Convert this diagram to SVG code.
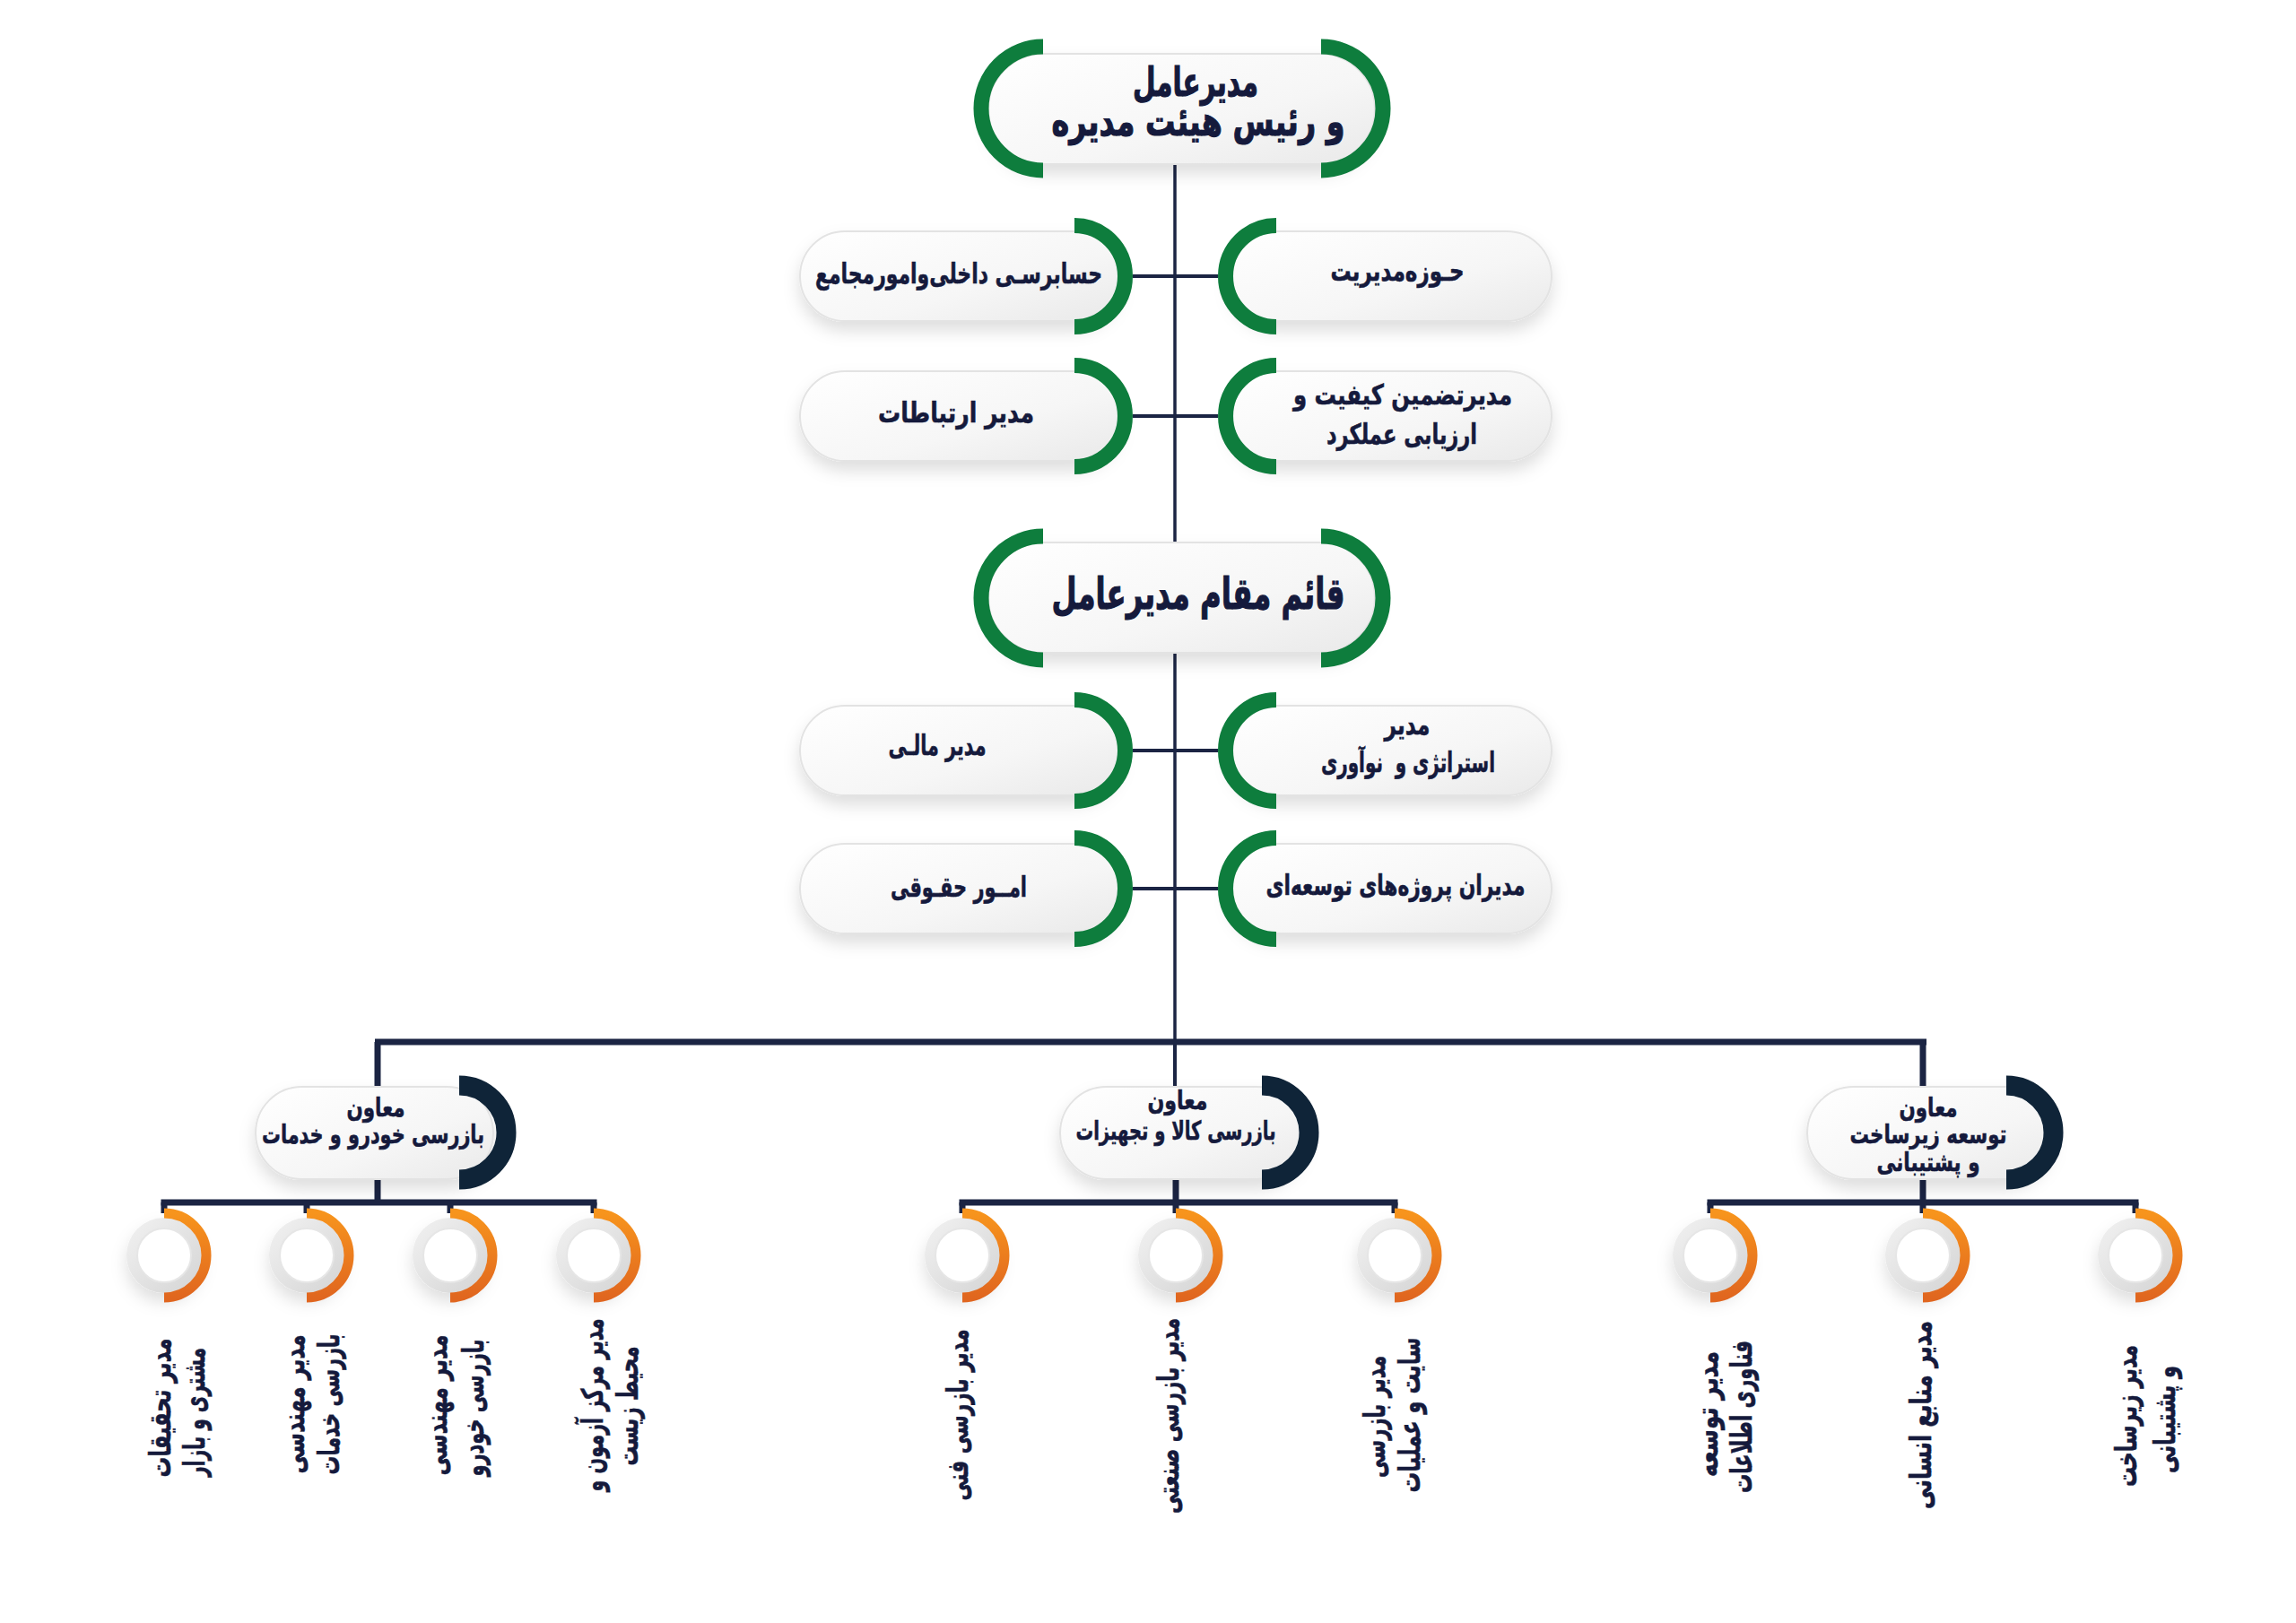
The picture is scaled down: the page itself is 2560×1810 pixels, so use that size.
<svg xmlns="http://www.w3.org/2000/svg" width="2560" height="1810" viewBox="0 0 2560 1810">
<defs>
<linearGradient id="pillGrad" x1="0" y1="0" x2="1" y2="1">
<stop offset="0" stop-color="#ffffff"/>
<stop offset="0.6" stop-color="#f6f6f6"/>
<stop offset="1" stop-color="#e9e9e9"/>
</linearGradient>
<linearGradient id="ringGrad" x1="0" y1="0" x2="1" y2="1">
<stop offset="0" stop-color="#f2f2f2"/>
<stop offset="1" stop-color="#d4d4d4"/>
</linearGradient>
<linearGradient id="orangeGrad" x1="0" y1="0" x2="0" y2="1">
<stop offset="0" stop-color="#f7941d"/>
<stop offset="1" stop-color="#e0661f"/>
</linearGradient>
<filter id="shadow" x="-20%" y="-30%" width="140%" height="180%">
<feDropShadow dx="0" dy="10" stdDeviation="9" flood-color="#000" flood-opacity="0.13"/>
</filter>
<style>
.pill{fill:url(#pillGrad);stroke:#e3e3e3;stroke-width:2;filter:url(#shadow)}
.garc{fill:none;stroke:#0e7d3d;stroke-width:17}
.darc{fill:none;stroke:#0f2438;stroke-width:22}
.oarc{fill:none;stroke:url(#orangeGrad);stroke-width:11}
.ln{stroke:#1b2443;fill:none}
.thin{stroke-width:3.5}
.mid{stroke-width:4}
.thick{stroke-width:7}
text{font-family:"DejaVu Sans","Noto Sans",sans-serif;font-weight:bold;fill:#151a3c;stroke:#151a3c;stroke-width:0.6;text-anchor:middle;dominant-baseline:central}
.t-main{font-size:45px;stroke-width:1.2}
.t-box{font-size:31px}
.t-vp{font-size:29px}
.t-lab{font-size:33px}
.ring{fill:url(#ringGrad);filter:url(#shadow)}
.inner{fill:#ffffff;stroke:#e6e6e6;stroke-width:2}
</style>
</defs>
<rect width="2560" height="1810" fill="#ffffff"/>

<g id="connectors">
<line class="ln thin" x1="1310" y1="183" x2="1310" y2="1162"/>
<line class="ln mid" x1="1263" y1="308" x2="1358" y2="308"/>
<line class="ln mid" x1="1263" y1="464" x2="1358" y2="464"/>
<line class="ln mid" x1="1263" y1="837" x2="1358" y2="837"/>
<line class="ln mid" x1="1263" y1="991" x2="1358" y2="991"/>
<line class="ln thick" x1="418" y1="1162" x2="2148" y2="1162"/>
<line class="ln thick" x1="421" y1="1162" x2="421" y2="1214"/>
<line class="ln mid" x1="1310" y1="1162" x2="1310" y2="1214"/>
<line class="ln thick" x1="2144" y1="1162" x2="2144" y2="1214"/>
<line class="ln thick" x1="421" y1="1312" x2="421" y2="1341"/>
<line class="ln thick" x1="1311" y1="1312" x2="1311" y2="1341"/>
<line class="ln thick" x1="2144" y1="1312" x2="2144" y2="1341"/>
<line class="ln thick" x1="179.5" y1="1341" x2="665.5" y2="1341"/>
<line class="ln thick" x1="1069.5" y1="1341" x2="1558.5" y2="1341"/>
<line class="ln thick" x1="1903.5" y1="1341" x2="2384.5" y2="1341"/>
<path class="ln thick" d="M183 1341V1353M342 1341V1353M502 1341V1353M662 1341V1353M1073 1341V1353M1311 1341V1353M1555 1341V1353M1907 1341V1353M2144 1341V1353M2381 1341V1353"/>
</g>

<g id="n-ceo">
<rect class="pill" x="1102" y="60" width="431" height="123" rx="61.5"/>
<path class="garc" d="M1163 52 A69 69 0 0 0 1163 190"/>
<path class="garc" d="M1473 52 A69 69 0 0 1 1473 190"/>
<text class="t-main" x="1333" y="91" textLength="140" lengthAdjust="spacingAndGlyphs">مدیرعامل</text>
<text class="t-main" x="1336" y="135" textLength="327" lengthAdjust="spacingAndGlyphs">و رئیس هیئت مدیره</text>
</g>

<g id="n-audit">
<rect class="pill" x="892" y="258" width="356" height="100" rx="50"/>
<path class="garc" d="M1198 251.5 A56.5 56.5 0 0 1 1198 364.5"/>
<text class="t-box" x="1069" y="305" textLength="320" lengthAdjust="spacingAndGlyphs">حسابرسـی داخلی‌وامورمجامع</text>
</g>
<g id="n-domain">
<rect class="pill" x="1372" y="258" width="358" height="100" rx="50"/>
<path class="garc" d="M1423 251.5 A56.5 56.5 0 0 0 1423 364.5"/>
<text class="t-box" x="1558" y="302" textLength="149" lengthAdjust="spacingAndGlyphs">حـوزه‌مدیریت</text>
</g>
<g id="n-comm">
<rect class="pill" x="892" y="414" width="356" height="100" rx="50"/>
<path class="garc" d="M1198 407.5 A56.5 56.5 0 0 1 1198 520.5"/>
<text class="t-box" x="1066" y="460" textLength="174" lengthAdjust="spacingAndGlyphs">مدیر ارتباطات</text>
</g>
<g id="n-quality">
<rect class="pill" x="1372" y="414" width="358" height="100" rx="50"/>
<path class="garc" d="M1423 407.5 A56.5 56.5 0 0 0 1423 520.5"/>
<text class="t-box" x="1564" y="440" textLength="244" lengthAdjust="spacingAndGlyphs">مدیرتضمین کیفیت و</text>
<text class="t-box" x="1563" y="484" textLength="168" lengthAdjust="spacingAndGlyphs">ارزیابی عملکرد</text>
</g>

<g id="n-deputy">
<rect class="pill" x="1102" y="605" width="431" height="123" rx="61.5"/>
<path class="garc" d="M1163 598 A69 69 0 0 0 1163 736"/>
<path class="garc" d="M1473 598 A69 69 0 0 1 1473 736"/>
<text class="t-main" x="1336" y="662" style="font-size:49px" textLength="327" lengthAdjust="spacingAndGlyphs">قائم مقام مدیرعامل</text>
</g>

<g id="n-finance">
<rect class="pill" x="892" y="787" width="356" height="100" rx="50"/>
<path class="garc" d="M1198 780.5 A56.5 56.5 0 0 1 1198 893.5"/>
<text class="t-box" x="1045" y="831" textLength="109" lengthAdjust="spacingAndGlyphs">مدیر مالـی</text>
</g>
<g id="n-strategy">
<rect class="pill" x="1372" y="787" width="358" height="100" rx="50"/>
<path class="garc" d="M1423 780.5 A56.5 56.5 0 0 0 1423 893.5"/>
<text class="t-box" x="1569" y="808" textLength="51" lengthAdjust="spacingAndGlyphs">مدیر</text>
<text class="t-box" x="1570" y="850" textLength="194" lengthAdjust="spacingAndGlyphs">استراتژی و&#160; نوآوری</text>
</g>
<g id="n-legal">
<rect class="pill" x="892" y="941" width="356" height="100" rx="50"/>
<path class="garc" d="M1198 934.5 A56.5 56.5 0 0 1 1198 1047.5"/>
<text class="t-box" x="1069" y="989" textLength="152" lengthAdjust="spacingAndGlyphs">امــور حقـوقی</text>
</g>
<g id="n-projects">
<rect class="pill" x="1372" y="941" width="358" height="100" rx="50"/>
<path class="garc" d="M1423 934.5 A56.5 56.5 0 0 0 1423 1047.5"/>
<text class="t-box" x="1556" y="987" textLength="289" lengthAdjust="spacingAndGlyphs">مدیران پروژه‌های توسعه‌ای</text>
</g>

<g id="n-vp-auto">
<rect class="pill" x="285" y="1212" width="265" height="103" rx="51.5"/>
<path class="darc" d="M512 1210.5 A52.5 52.5 0 0 1 512 1315.5"/>
<text class="t-vp" x="419" y="1235" textLength="65" lengthAdjust="spacingAndGlyphs">معاون</text>
<text class="t-vp" x="416" y="1265" textLength="248" lengthAdjust="spacingAndGlyphs">بازرسی خودرو و خدمات</text>
</g>
<g id="n-vp-goods">
<rect class="pill" x="1182" y="1212" width="271" height="103" rx="51.5"/>
<path class="darc" d="M1407 1210.5 A52.5 52.5 0 0 1 1407 1315.5"/>
<text class="t-vp" x="1313" y="1227" textLength="67" lengthAdjust="spacingAndGlyphs">معاون</text>
<text class="t-vp" x="1311" y="1261" textLength="223" lengthAdjust="spacingAndGlyphs">بازرسی کالا و تجهیزات</text>
</g>
<g id="n-vp-infra">
<rect class="pill" x="2015" y="1212" width="272" height="103" rx="51.5"/>
<path class="darc" d="M2237 1210.5 A52.5 52.5 0 0 1 2237 1315.5"/>
<text class="t-vp" x="2150" y="1235" textLength="65" lengthAdjust="spacingAndGlyphs">معاون</text>
<text class="t-vp" x="2150" y="1265" textLength="175" lengthAdjust="spacingAndGlyphs">توسعه زیرساخت</text>
<text class="t-vp" x="2150" y="1296" textLength="115" lengthAdjust="spacingAndGlyphs">و پشتیبانی</text>
</g>

<g id="n-research">
<circle class="ring" cx="183" cy="1400" r="42"/><circle class="inner" cx="183" cy="1400" r="30"/>
<path class="oarc" d="M183 1353 A47 47 0 0 1 183 1447"/>
<text class="t-lab" transform="translate(178 1570) rotate(-90)" textLength="155" lengthAdjust="spacingAndGlyphs">مدیر تحقیقات</text>
<text class="t-lab" transform="translate(216 1575) rotate(-90)" textLength="144" lengthAdjust="spacingAndGlyphs">مشتری و بازار</text>
</g>
<g id="n-eng-services">
<circle class="ring" cx="342" cy="1400" r="42"/><circle class="inner" cx="342" cy="1400" r="30"/>
<path class="oarc" d="M342 1353 A47 47 0 0 1 342 1447"/>
<text class="t-lab" transform="translate(327 1566) rotate(-90)" textLength="155" lengthAdjust="spacingAndGlyphs">مدیر مهندسی</text>
<text class="t-lab" transform="translate(366 1566) rotate(-90)" textLength="157" lengthAdjust="spacingAndGlyphs">بازرسی خدمات</text>
</g>
<g id="n-eng-auto">
<circle class="ring" cx="502" cy="1400" r="42"/><circle class="inner" cx="502" cy="1400" r="30"/>
<path class="oarc" d="M502 1353 A47 47 0 0 1 502 1447"/>
<text class="t-lab" transform="translate(486 1567) rotate(-90)" textLength="157" lengthAdjust="spacingAndGlyphs">مدیر مهندسی</text>
<text class="t-lab" transform="translate(527 1570) rotate(-90)" textLength="153" lengthAdjust="spacingAndGlyphs">بازرسی خودرو</text>
</g>
<g id="n-testcenter">
<circle class="ring" cx="662" cy="1400" r="42"/><circle class="inner" cx="662" cy="1400" r="30"/>
<path class="oarc" d="M662 1353 A47 47 0 0 1 662 1447"/>
<text class="t-lab" transform="translate(660 1567) rotate(-90)" textLength="193" lengthAdjust="spacingAndGlyphs">مدیر مرکز آزمون و</text>
<text class="t-lab" transform="translate(699 1568) rotate(-90)" textLength="133" lengthAdjust="spacingAndGlyphs">محیط زیست</text>
</g>
<g id="n-technical">
<circle class="ring" cx="1073" cy="1400" r="42"/><circle class="inner" cx="1073" cy="1400" r="30"/>
<path class="oarc" d="M1073 1353 A47 47 0 0 1 1073 1447"/>
<text class="t-lab" transform="translate(1067 1578) rotate(-90)" textLength="191" lengthAdjust="spacingAndGlyphs">مدیر بازرسی فنی</text>
</g>
<g id="n-industrial">
<circle class="ring" cx="1311" cy="1400" r="42"/><circle class="inner" cx="1311" cy="1400" r="30"/>
<path class="oarc" d="M1311 1353 A47 47 0 0 1 1311 1447"/>
<text class="t-lab" transform="translate(1302 1579) rotate(-90)" textLength="218" lengthAdjust="spacingAndGlyphs">مدیر بازرسی صنعتی</text>
</g>
<g id="n-site">
<circle class="ring" cx="1555" cy="1400" r="42"/><circle class="inner" cx="1555" cy="1400" r="30"/>
<path class="oarc" d="M1555 1353 A47 47 0 0 1 1555 1447"/>
<text class="t-lab" transform="translate(1532 1580) rotate(-90)" textLength="136" lengthAdjust="spacingAndGlyphs">مدیر بازرسی</text>
<text class="t-lab" transform="translate(1571 1578) rotate(-90)" textLength="173" lengthAdjust="spacingAndGlyphs">سایت و عملیات</text>
</g>
<g id="n-it">
<circle class="ring" cx="1907" cy="1400" r="42"/><circle class="inner" cx="1907" cy="1400" r="30"/>
<path class="oarc" d="M1907 1353 A47 47 0 0 1 1907 1447"/>
<text class="t-lab" transform="translate(1903 1577) rotate(-90)" textLength="140" lengthAdjust="spacingAndGlyphs">مدیر توسعه</text>
<text class="t-lab" transform="translate(1941 1580) rotate(-90)" textLength="170" lengthAdjust="spacingAndGlyphs">فناوری اطلاعات</text>
</g>
<g id="n-hr">
<circle class="ring" cx="2144" cy="1400" r="42"/><circle class="inner" cx="2144" cy="1400" r="30"/>
<path class="oarc" d="M2144 1353 A47 47 0 0 1 2144 1447"/>
<text class="t-lab" transform="translate(2141 1578) rotate(-90)" textLength="210" lengthAdjust="spacingAndGlyphs">مدیر منابع انسانی</text>
</g>
<g id="n-infra">
<circle class="ring" cx="2381" cy="1400" r="42"/><circle class="inner" cx="2381" cy="1400" r="30"/>
<path class="oarc" d="M2381 1353 A47 47 0 0 1 2381 1447"/>
<text class="t-lab" transform="translate(2370 1579) rotate(-90)" textLength="158" lengthAdjust="spacingAndGlyphs">مدیر زیرساخت</text>
<text class="t-lab" transform="translate(2413 1583) rotate(-90)" textLength="120" lengthAdjust="spacingAndGlyphs">و پشتیبانی</text>
</g>
</svg>
